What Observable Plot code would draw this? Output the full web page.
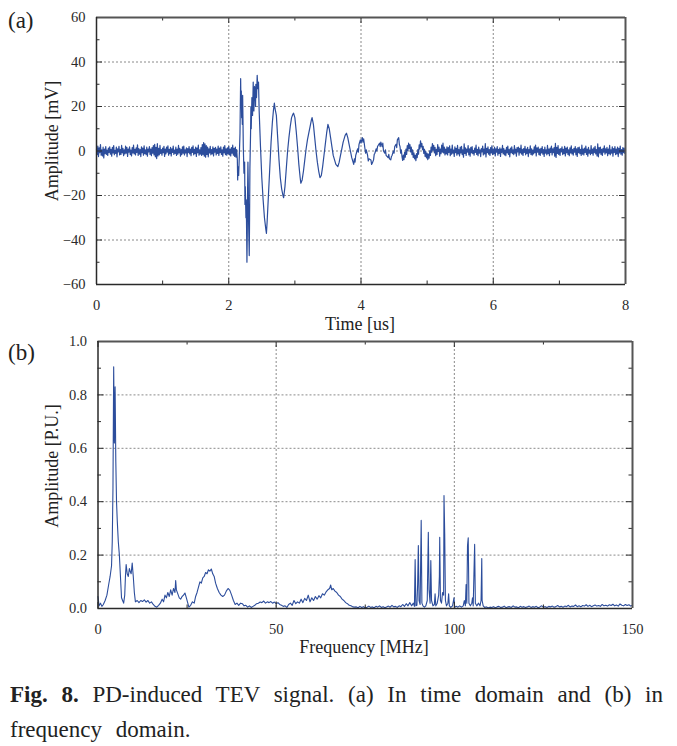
<!DOCTYPE html>
<html><head><meta charset="utf-8">
<script src="https://cdn.jsdelivr.net/npm/d3@7"></script>
<script src="https://cdn.jsdelivr.net/npm/@observablehq/plot@0.6"></script>
<style>
body{margin:0;background:#fff;width:677px;height:746px;overflow:hidden;position:relative;font-family:"Liberation Serif","Times New Roman",serif;color:#222}
#a svg text,#b svg text{font-family:"Liberation Serif","Times New Roman",serif !important}
.abs{position:absolute;white-space:nowrap;line-height:1}
.rot{transform:translate(-50%,-50%) rotate(-90deg)}
.ctr{transform:translate(-50%,-50%)}
#a{position:absolute;left:0;top:0}
#b{position:absolute;left:0;top:330px}
.cap{position:absolute;left:10px;width:653px;font-size:23px;line-height:1;white-space:nowrap}
</style></head><body>
<div id="a"></div><div id="b"></div>
<div class="abs" style="left:8px;top:9px;font-size:23px">(a)</div>
<div class="abs" style="left:8px;top:341px;font-size:23px">(b)</div>
<div class="abs rot" style="left:52px;top:141px;font-size:18px">Amplitude [mV]</div>
<div class="abs ctr" style="left:360px;top:324px;font-size:18px">Time [us]</div>
<div class="abs rot" style="left:52px;top:466px;font-size:18px">Amplitude [P.U.]</div>
<div class="abs ctr" style="left:364px;top:647px;font-size:18px">Frequency [MHz]</div>
<div class="cap" style="top:683px;text-align:justify;text-align-last:justify"><b>Fig. 8.</b> PD-induced TEV signal. (a) In time domain and (b) in</div>
<div class="cap" style="top:718px;word-spacing:8px">frequency domain.</div>
<script>
// ---------- (a) time domain ----------
const timeTicks = [0, 2, 4, 6, 8];
const timeMinor = [1, 3, 5, 7];
const mvTicks = [-60, -40, -20, 0, 20, 40, 60];
const mvMinor = [-50, -30, -10, 10, 30, 50];
const timeGrid = [2, 4, 6];
const mvGrid = [-40, -20, 0, 20, 40];

// pre-trigger noise, 0 .. 2.12 us (0.01 us apart)
const preStart = 0, preEnd = 2.12;
const preNoise = [
0.8,-1.6,2.2,-2.5,1.4,-0.7,2.9,-1.9,0.5,-2.2,1.7,-3.1,0.9,-1.2,2.0,-1.5,0.4,-2.0,1.3,-0.6,
1.9,-1.4,0.7,-2.3,1.6,-0.9,2.4,-1.7,0.3,-1.1,1.8,-2.6,1.0,-0.4,2.1,-1.8,0.6,-1.5,2.5,-0.8,
1.2,-2.1,0.5,-1.3,2.2,-1.0,1.6,-2.4,0.8,-0.5,1.9,-1.6,0.4,-2.2,1.5,-0.9,2.6,-1.3,0.7,-1.8,
1.4,-0.6,2.8,-2.0,1.1,-1.4,0.6,-2.5,1.9,-0.7,1.3,-1.9,2.3,-1.2,0.5,-1.6,1.7,-2.3,0.9,-0.4,
2.0,-1.5,0.8,-2.1,1.5,-1.0,2.4,-1.8,3.0,-2.6,1.6,-3.4,3.3,-2.2,1.2,-1.7,2.5,-1.1,0.6,-1.9,
1.3,-0.8,2.1,-2.4,0.9,-1.3,1.8,-0.5,2.3,-1.9,0.7,-1.2,1.6,-2.2,1.0,-0.6,2.2,-1.5,0.4,-1.1,
1.7,-2.0,0.8,-1.4,2.5,-0.9,1.2,-2.3,0.6,-1.6,1.9,-1.0,2.2,-1.8,0.5,-0.9,1.4,-2.5,1.1,-0.7,
2.0,-1.3,0.9,-2.1,1.6,-0.6,2.3,-1.7,0.7,-1.2,1.8,-2.4,1.3,-0.8,2.6,-1.9,0.5,-1.4,1.5,-2.0,
2.9,-1.6,3.8,-2.3,3.2,-2.8,2.4,-1.5,1.8,-2.6,1.0,-0.9,2.1,-1.7,0.6,-1.3,1.9,-2.2,1.2,-0.5,
1.6,-1.8,0.8,-1.1,2.2,-2.0,1.3,-0.7,1.9,-1.5,0.5,-2.3,1.7,-0.8,2.4,-1.6,1.0,-1.9,1.4,-1.2,
2.1,-1.7,0.9,-2.2,1.5,-1.0,2.6,-1.9,1.2,-2.4,1.8,-2.8,0.6];

// burst, read as (time, value) pairs
const burstT = [2.13,2.135,2.14,2.15,2.16,2.17,2.18,2.185,2.19,2.195,2.20,2.205,2.21,2.215,2.22,2.23,2.24,2.245,2.25,2.26,2.265,2.275,2.28,2.285,2.29,2.295,2.30,2.31,2.315,2.32,2.33,2.335,2.34,2.35,2.36,2.37,2.375,2.38,2.39,2.40,2.405,2.41,2.42,2.43,2.44,2.45,2.46,2.48,2.50,2.52,2.54,2.56,2.57,2.58,2.60,2.62,2.64,2.66,2.675,2.69,2.70,2.72,2.74,2.76,2.78,2.80,2.82,2.83,2.85,2.87,2.89,2.91,2.93,2.95,2.97,2.98,3.00,3.02,3.04,3.06,3.08,3.09,3.11,3.13,3.15,3.17,3.19,3.21,3.23,3.25,3.26,3.28,3.30,3.32,3.34,3.36,3.38,3.40,3.42,3.44,3.46,3.48,3.50,3.52,3.54,3.56,3.58,3.60,3.62,3.65,3.67,3.69,3.71,3.73,3.76,3.78,3.80,3.82,3.84,3.86,3.88,3.89,3.90,3.91,3.92,3.93,3.95,3.96,3.97,3.99,4.00,4.02,4.03,4.04,4.06,4.07,4.08,4.10,4.11,4.12,4.15,4.16,4.17,4.19,4.20,4.21,4.23,4.24,4.25,4.28,4.29,4.30,4.32,4.33,4.34,4.36,4.37,4.38,4.41,4.42,4.43,4.45,4.46,4.47,4.49,4.50,4.51,4.53,4.54,4.55,4.57,4.58,4.59,4.60,4.61];
const burstV = [-4,-13,-7,-11,-2,8,32.5,20,27,15,21,12,25,14,2,-10,-5,-24,-16,-30,-22,-50,-38,-18,-5,-14,-32,-47,-30,-8,8,20,10,24,16,31,22,18,29,26,20,30,24,34,28,31,18,2,-12,-22,-30,-35,-37,-32,-20,-8,4,13,18,21.5,19,16,6,-4,-12,-17,-20,-21,-16,-8,0,6,11,15,16.5,17,15,9,2,-6,-12,-14.5,-13,-9,-4,1,5,8,11,14,15,12,6,0,-5,-9,-12,-11,-7,-2,3,8,12,10,6,2,-2,-4,-6,-7,-5,-2,1,4,7,8,6,3,0,-3,-5,-6,-3.5,-5,-2,-1,1,-0.5,3,5,3.5,6,4,5.5,1,-1,0.5,-2,-4.5,-3.5,-4,-6,-5.5,-4,-1.5,-1,1,0,2,3.5,2,4,2,3.5,0,-1,0.5,-2,-3,-1.5,-3.5,-4,-2.5,-2,0,-1,2,3,1.5,5,6,3,2,-1,0.5];

// post-burst noise, 4.62 .. 8 us (0.01 us apart)
const postStart = 4.62, postEnd = 8;
const postNoise = [
-2.5,-4.2,-1.8,-3.9,-0.6,-2.8,0.9,-1.5,2.4,0.2,
3.6,1.1,2.9,-0.4,1.8,-1.6,0.5,-2.9,-0.8,-3.5,
-1.9,-4.3,-1.2,-3.0,0.6,-1.4,2.8,0.9,4.6,1.8,
3.4,0.6,2.1,-1.1,0.8,-2.4,-0.3,-3.1,-1.0,-3.9,
-1.4,-3.2,0.1,-2.0,1.8,-0.5,3.3,0.4,2.5,-0.9,
1.6,-2.1,0.7,-1.5,2.9,-0.2,1.8,-2.3,0.9,-1.2,
2.6,-0.5,3.5,-0.9,1.7,-1.8,0.8,-1.3,1.9,
-1.8,1.5,-0.6,2.3,-2.1,0.8,-1.4,2.7,-1.0,0.4,-2.4,1.9,-0.7,1.2,-1.9,2.5,-1.3,0.6,-2.2,1.7,
-0.9,2.1,-1.6,0.5,-2.8,3.2,-1.1,1.4,-2.0,0.9,-0.5,2.4,-1.7,1.0,-2.3,1.6,-0.8,2.0,-1.2,0.3,
-1.9,1.3,-0.6,2.6,-1.5,0.7,-2.1,1.8,-1.0,0.5,-2.5,1.1,-0.4,2.2,-1.8,0.9,-1.3,3.3,-2.7,1.2,
-0.7,1.9,-1.4,0.6,-2.0,1.5,-0.9,2.3,-1.6,0.8,-1.2,1.7,-2.2,1.0,-0.5,2.0,-1.9,0.7,-1.1,1.4,
-2.4,0.9,-0.6,2.5,-1.3,1.1,-1.8,0.4,-2.1,1.6,-0.8,2.2,-1.5,0.6,-2.6,1.3,-0.7,1.9,-1.2,0.5,
-1.6,2.4,-1.0,0.8,-2.3,1.5,-0.4,1.8,-1.9,1.2,-0.9,2.6,-1.4,0.7,-2.0,1.1,-0.6,2.1,-1.7,0.9,
-1.1,1.6,-2.5,0.6,-0.8,2.3,-1.5,1.0,-1.9,0.4,-1.3,1.9,-0.7,2.7,-2.2,1.4,-0.5,1.7,-1.6,0.8,
-2.0,1.2,-0.9,2.0,-1.4,0.6,-2.4,1.8,-1.0,0.5,-1.7,2.5,-1.2,0.9,-2.1,1.3,-0.6,2.2,-1.8,1.0,
-0.7,1.5,-2.3,3.4,-2.9,1.6,-1.1,2.4,-1.5,0.8,-2.0,1.1,-0.4,1.9,-1.6,0.7,-1.2,2.1,-2.2,1.3,
-0.8,1.7,-1.5,0.5,-2.1,1.4,-0.9,2.3,-1.3,0.6,-1.9,1.2,-0.5,2.0,-1.7,1.0,-2.4,1.5,-0.7,1.8,
-1.2,0.7,-2.0,2.6,-1.4,0.9,-1.8,1.3,-0.6,2.2,-1.5,0.8,-2.3,1.6,-1.0,0.4,-1.6,2.4,-1.1,0.9,
-1.9,1.4,-0.7,2.1,-1.3,0.6,-2.2,3.2,-2.6,1.5,-0.9,1.8,-1.5,0.7,-2.0,1.2,-0.5,2.3,-1.4,1.0,
-0.8,1.6,-2.1,0.9,-1.2,2.5,-1.7,0.5,-1.0,1.9,-2.3,1.1,-0.6,2.0,-1.6,0.8,-1.3,1.7,-2.5,1.2,
-0.9,2.2,-1.4,0.6,-1.9,1.5,-0.7,1.3,-1.1,0.4];

// ---------- (b) frequency domain ----------
const freqTicks = [0, 50, 100, 150];
const freqMinor = [25, 75, 125];
const puTicks = [0, 0.2, 0.4, 0.6, 0.8, 1.0];
const puMinor = [0.1, 0.3, 0.5, 0.7, 0.9];
const freqGrid = [50, 100];
const puGrid = [0.2, 0.4, 0.6, 0.8];

const lowF = [0,0.3,0.7,1.1,1.5,2.0,2.5,3.0,3.4,3.8,4.0,4.2,4.4,4.6,4.8,5.0,5.2,5.4,5.7,6.0,6.3,6.6,6.9,7.2,7.5,7.7,7.9,8.2,8.5,8.8,9.0,9.3,9.6,9.9,10.2,10.5,11,11.5,12,12.5,13,13.5,14,14.5,15,15.5,16,16.5,17,17.5,18,18.4,18.8,19.2,19.6,20,20.4,20.8,21.2,21.6,21.8,22,22.4,22.8,23.2,23.6,24,24.4,24.8,25.2,25.5,26,26.5,27,27.4,27.8,28.2,28.6,29,29.4,29.8,30.2,30.6,31,31.4,31.8,32.2,32.6,33,33.5,34,34.5,35,35.5,36,36.5,37,37.5,38,38.5,39,39.5,40,40.5,41,41.5,42,42.5,43,43.5,44,44.5,45,45.5,46,46.5,47,47.5,48,48.5,49,49.5,50,50.5,51,51.5,52,52.5,53,53.5,54,54.5,55,55.5,56,56.5,57,57.5,58,58.5,59,59.5,60,60.5,61,61.5,62,62.5,63,63.5,64,64.5,65,65.3,65.6,66,66.5,67,67.5,68,68.5,69,69.5,70,70.5,71,71.5,72];
const lowA = [0.045,0.01,0.02,0.008,0.015,0.03,0.05,0.09,0.12,0.16,0.25,0.45,0.905,0.62,0.83,0.55,0.4,0.33,0.25,0.2,0.12,0.04,0.03,0.02,0.05,0.12,0.165,0.13,0.12,0.15,0.14,0.13,0.17,0.12,0.06,0.025,0.03,0.022,0.03,0.026,0.032,0.024,0.03,0.02,0.025,0.015,0.008,0.005,0.012,0.02,0.035,0.025,0.05,0.04,0.06,0.045,0.07,0.05,0.075,0.06,0.105,0.07,0.055,0.04,0.035,0.045,0.05,0.058,0.04,0.02,0.005,0.012,0.025,0.02,0.045,0.06,0.08,0.1,0.095,0.115,0.12,0.135,0.13,0.145,0.14,0.148,0.13,0.12,0.095,0.075,0.06,0.05,0.045,0.05,0.065,0.075,0.068,0.05,0.03,0.015,0.02,0.012,0.02,0.018,0.01,0.012,0.005,0.01,0.004,0.008,0.012,0.018,0.02,0.024,0.022,0.028,0.02,0.025,0.022,0.026,0.02,0.024,0.018,0.022,0.015,0.012,0.008,0.01,0.004,0.015,0.02,0.012,0.03,0.018,0.025,0.02,0.035,0.022,0.038,0.03,0.05,0.025,0.04,0.03,0.045,0.035,0.048,0.04,0.055,0.05,0.062,0.07,0.075,0.088,0.07,0.075,0.065,0.06,0.05,0.045,0.035,0.03,0.022,0.018,0.012,0.01,0.006,0.005];

// flat band 72.5 .. 87.5 MHz (0.5 MHz apart)
const midStart = 72.5, midEnd = 87.5;
const midA = [0.006,0.003,0.008,0.004,0.007,0.002,0.005,0.009,0.004,0.006,0.003,0.008,0.005,0.01,0.004,0.007,0.003,0.006,0.009,0.005,0.012,0.006,0.008,0.004,0.01,0.007,0.015,0.008,0.018,0.01,0.022];

// spike cluster 88 .. 110 MHz
const spikeF = [88.0,88.5,88.8,89.0,89.2,89.5,89.7,89.9,90.1,90.4,90.7,90.9,91.2,91.6,92.0,92.4,92.7,92.9,93.2,93.4,93.6,94.0,94.4,94.6,94.8,95.2,95.6,95.8,95.9,96.1,96.4,96.7,97.0,97.1,97.3,97.5,97.8,98.2,98.4,98.6,99.0,99.5,99.9,100.1,100.6,101,101.5,102,102.5,102.8,103.1,103.3,103.5,103.7,103.9,104.1,104.5,104.9,105.1,105.3,105.5,105.7,105.9,106.3,106.8,107.2,107.5,107.7,107.8,108.1,108.5,109,109.5,110];
const spikeA = [0.01,0.02,0.008,0.183,0.01,0.012,0.09,0.236,0.03,0.015,0.33,0.02,0.01,0.005,0.01,0.03,0.285,0.07,0.02,0.18,0.03,0.01,0.015,0.055,0.01,0.02,0.05,0.12,0.267,0.03,0.02,0.06,0.05,0.423,0.28,0.03,0.01,0.02,0.055,0.01,0.004,0.01,0.04,0.005,0.008,0.005,0.01,0.005,0.01,0.03,0.01,0.09,0.02,0.236,0.265,0.02,0.01,0.02,0.04,0.01,0.128,0.24,0.02,0.01,0.02,0.01,0.03,0.187,0.03,0.01,0.004,0.006,0.003,0.005];

// flat band 110.5 .. 150 MHz
const highStart = 110.5, highEnd = 150;
const highA = [
0.004,0.007,0.003,0.006,0.008,0.004,0.005,0.009,0.003,0.006,
0.007,0.004,0.01,0.005,0.006,0.003,0.008,0.005,0.007,0.004,
0.006,0.009,0.004,0.007,0.005,0.008,0.003,0.006,0.01,0.005,
0.007,0.004,0.008,0.006,0.009,0.005,0.007,0.011,0.006,0.008,
0.005,0.009,0.007,0.012,0.006,0.009,0.008,0.013,0.007,0.01,
0.006,0.011,0.009,0.014,0.008,0.012,0.007,0.01,0.013,0.009,
0.011,0.008,0.015,0.01,0.012,0.009,0.014,0.011,0.016,0.01,
0.013,0.009,0.017,0.012,0.01,0.015,0.011,0.014,0.009,0.012];

// ---------- build tables ----------
const spread = (start, end, vals) => vals.map((v, i) => ({x: start + (end - start) * i / (vals.length - 1), y: v}));
const pairs = (xs, ys) => xs.map((x, i) => ({x, y: ys[i]}));
const timeData = [
  ...spread(preStart, preEnd, preNoise),
  ...pairs(burstT, burstV),
  ...spread(postStart, postEnd, postNoise)
];
const freqData = [
  ...pairs(lowF, lowA),
  ...spread(midStart, midEnd, midA),
  ...pairs(spikeF, spikeA),
  ...spread(highStart, highEnd, highA)
];

const LINE = "#2c4d9c";
const INK = "#2a2a2a";
const SERIF = "'Liberation Serif','Times New Roman',serif";

function panel({xDomain, yDomain, xTicks, xMinor, yTicks, yMinor, xGrid, yGrid, data, mt, mb, ml, mr, fmt, sw}) {
  const H = 267, W = 677 - ml - mr;
  const grid = {stroke: "#8a8a8a", strokeOpacity: 1, strokeDasharray: "2,2", strokeWidth: 1};
  return Plot.plot({
    width: 677, height: mt + H + mb,
    marginTop: mt, marginBottom: mb, marginLeft: ml, marginRight: mr,
    x: {domain: xDomain},
    y: {domain: yDomain, tickFormat: fmt},
    style: {fontFamily: SERIF, fontSize: "14.5px", color: INK, background: "transparent"},
    marks: [
      Plot.gridX(xGrid, grid),
      Plot.gridY(yGrid, grid),
      Plot.line(data, {x: "x", y: "y", stroke: LINE, strokeWidth: sw}),
      // inward ticks: bottom, top, left, right
      Plot.tickX(xTicks, {x: d => d, insetTop: H - 6, stroke: INK}),
      Plot.tickX(xMinor, {x: d => d, insetTop: H - 3.5, stroke: INK}),
      Plot.tickX(xTicks, {x: d => d, insetBottom: H - 6, stroke: INK}),
      Plot.tickX(xMinor, {x: d => d, insetBottom: H - 3.5, stroke: INK}),
      Plot.tickY(yTicks, {y: d => d, insetRight: W - 6, stroke: INK}),
      Plot.tickY(yMinor, {y: d => d, insetRight: W - 3.5, stroke: INK}),
      Plot.tickY(yTicks, {y: d => d, insetLeft: W - 6, stroke: INK}),
      Plot.tickY(yMinor, {y: d => d, insetLeft: W - 3.5, stroke: INK}),
      // frame
      Plot.ruleY([yDomain[1]], {stroke: "#555", strokeWidth: 2}),
      Plot.ruleX([xDomain[1]], {stroke: "#555", strokeWidth: 2}),
      Plot.ruleX([xDomain[0]], {stroke: INK, strokeWidth: 1.5}),
      Plot.ruleY([yDomain[0]], {stroke: INK, strokeWidth: 1.5}),
      Plot.axisX(xTicks, {tickSize: 0, tickPadding: 15, label: null, fontFamily: SERIF}),
      Plot.axisY(yTicks, {tickSize: 0, tickPadding: 11, label: null, tickFormat: fmt, fontFamily: SERIF})
    ]
  });
}

document.getElementById("a").append(panel({
  xDomain: [0, 8], yDomain: [-60, 60],
  xTicks: timeTicks, xMinor: timeMinor, yTicks: mvTicks, yMinor: mvMinor,
  xGrid: timeGrid, yGrid: mvGrid, data: timeData,
  mt: 17, mb: 46, ml: 96, mr: 52, fmt: d3.format("d"), sw: 1.2
}));
document.getElementById("b").append(panel({
  xDomain: [0, 150], yDomain: [0, 1],
  xTicks: freqTicks, xMinor: freqMinor, yTicks: puTicks, yMinor: puMinor,
  xGrid: freqGrid, yGrid: puGrid, data: freqData,
  mt: 11, mb: 52, ml: 97.5, mr: 45, fmt: d3.format(".1f"), sw: 1.1
}));
</script>
</body></html>
